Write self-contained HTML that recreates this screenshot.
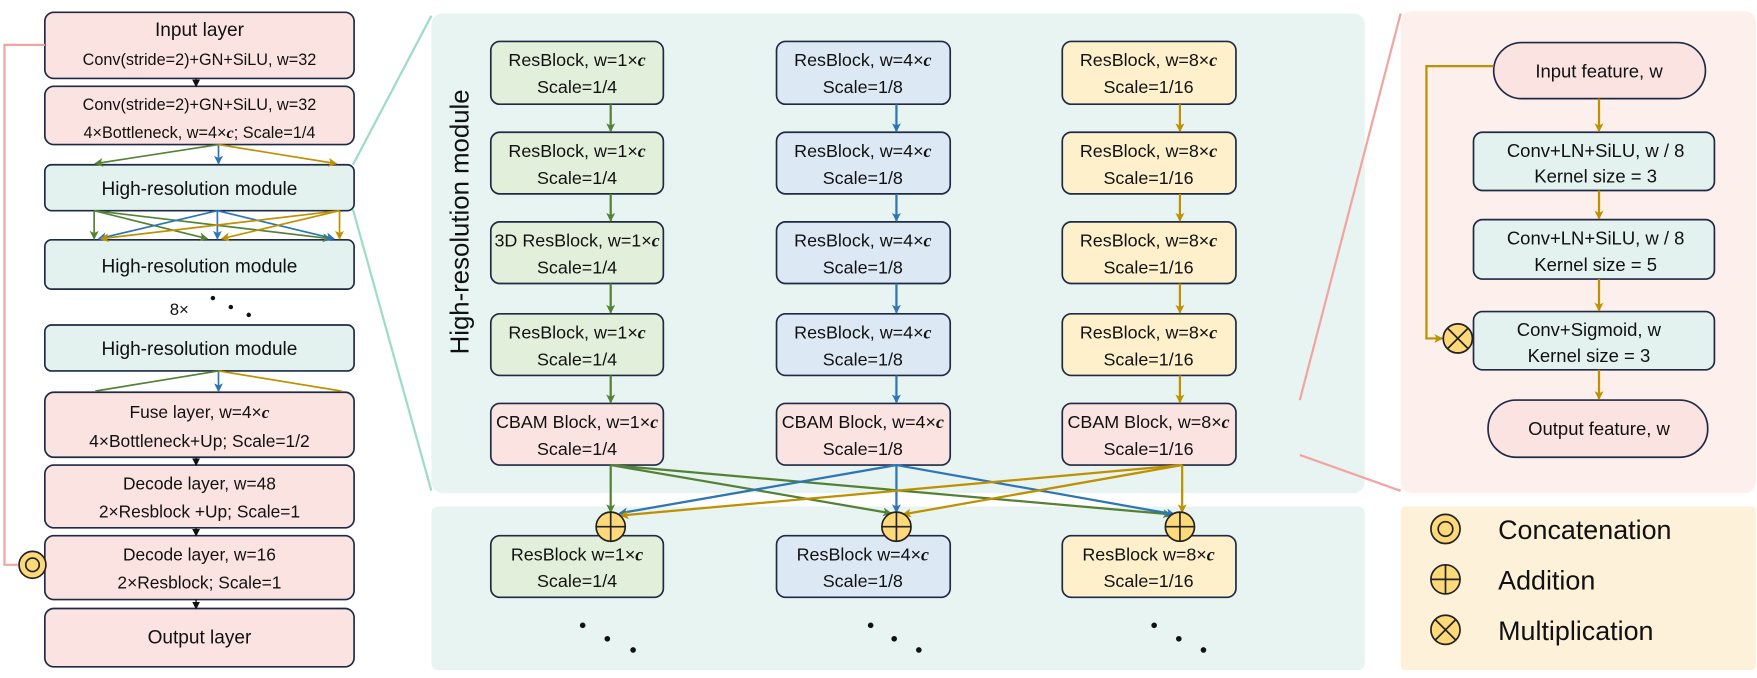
<!DOCTYPE html>
<html><head><meta charset="utf-8"><style>
html,body{margin:0;padding:0;background:#fff;}
svg{display:block;}
text{font-family:"Liberation Sans",sans-serif;fill:#111;}
.c{font-family:"Liberation Serif",serif;font-style:italic;font-weight:bold;}
</style></head><body>
<svg width="1757" height="678" viewBox="0 0 1568 605" preserveAspectRatio="none" xmlns="http://www.w3.org/2000/svg">
<defs>
<marker id="ag" markerWidth="8" markerHeight="8" refX="7" refY="4" orient="auto" markerUnits="userSpaceOnUse"><path d="M0,0 L8,4 L0,8 L2,4z" fill="#548235"/></marker>
<marker id="ab" markerWidth="8" markerHeight="8" refX="7" refY="4" orient="auto" markerUnits="userSpaceOnUse"><path d="M0,0 L8,4 L0,8 L2,4z" fill="#2e75b6"/></marker>
<marker id="ay" markerWidth="8" markerHeight="8" refX="7" refY="4" orient="auto" markerUnits="userSpaceOnUse"><path d="M0,0 L8,4 L0,8 L2,4z" fill="#bf9000"/></marker>
<marker id="ak" markerWidth="7" markerHeight="7" refX="6" refY="3.5" orient="auto" markerUnits="userSpaceOnUse"><path d="M0,0 L7,3.5 L0,7z" fill="#111"/></marker>
</defs>

<rect x="385" y="12" width="833" height="428" rx="10" fill="#e8f4f1"/>
<rect x="385" y="452" width="833" height="146" rx="6" fill="#e8f4f1"/>
<rect x="1250" y="10" width="317" height="430" rx="10" fill="#fcefec"/>
<rect x="1250" y="452" width="317" height="146" rx="4" fill="#fdf1d9"/>

<line x1="315" y1="147" x2="385" y2="14" stroke="#9fdcc8" stroke-width="2"/>
<line x1="315" y1="187" x2="385" y2="438" stroke="#9fdcc8" stroke-width="2"/>
<line x1="1160" y1="357" x2="1250" y2="12" stroke="#f2a5a0" stroke-width="2"/>
<line x1="1160" y1="406" x2="1250" y2="438" stroke="#f2a5a0" stroke-width="2"/>

<g stroke="#1f2a44" stroke-width="1.5">
<rect x="40" y="11" width="276" height="59" rx="8" fill="#fbe3e1"/>
<rect x="40" y="77" width="276" height="52" rx="8" fill="#fbe3e1"/>
<rect x="40" y="147" width="276" height="41" rx="6" fill="#e3f2ee"/>
<rect x="40" y="214" width="276" height="44" rx="6" fill="#e3f2ee"/>
<rect x="40" y="290" width="276" height="41" rx="6" fill="#e3f2ee"/>
<rect x="40" y="350" width="276" height="58" rx="8" fill="#fbe3e1"/>
<rect x="40" y="415" width="276" height="56" rx="8" fill="#fbe3e1"/>
<rect x="40" y="478" width="276" height="57" rx="8" fill="#fbe3e1"/>
<rect x="40" y="543" width="276" height="52" rx="8" fill="#fbe3e1"/>
</g>
<text x="178" y="32" font-size="17" text-anchor="middle">Input layer</text>
<text x="178" y="58" font-size="14.5" text-anchor="middle">Conv(stride=2)+GN+SiLU, w=32</text>
<text x="178" y="98" font-size="14.5" text-anchor="middle">Conv(stride=2)+GN+SiLU, w=32</text>
<text x="178" y="123" font-size="14.5" text-anchor="middle">4×Bottleneck, w=4×<tspan class="c">c</tspan>; Scale=1/4</text>
<text x="178" y="174" font-size="17" text-anchor="middle">High-resolution module</text>
<text x="178" y="243" font-size="17" text-anchor="middle">High-resolution module</text>
<text x="160" y="281" font-size="15" text-anchor="middle">8×</text>
<circle cx="190" cy="266" r="2" fill="#111"/><circle cx="206" cy="274" r="2" fill="#111"/><circle cx="222" cy="281" r="2" fill="#111"/>
<text x="178" y="317" font-size="17" text-anchor="middle">High-resolution module</text>
<text x="178" y="373" font-size="15.5" text-anchor="middle">Fuse layer, w=4×<tspan class="c">c</tspan></text>
<text x="178" y="399" font-size="15.5" text-anchor="middle">4×Bottleneck+Up; Scale=1/2</text>
<text x="178" y="437" font-size="15.5" text-anchor="middle">Decode layer, w=48</text>
<text x="178" y="462" font-size="15.5" text-anchor="middle">2×Resblock +Up; Scale=1</text>
<text x="178" y="500" font-size="15.5" text-anchor="middle">Decode layer, w=16</text>
<text x="178" y="525" font-size="15.5" text-anchor="middle">2×Resblock; Scale=1</text>
<text x="178" y="574" font-size="17" text-anchor="middle">Output layer</text>

<line x1="175" y1="70" x2="175" y2="77" stroke="#111" stroke-width="1.2" marker-end="url(#ak)"/>
<line x1="175" y1="408" x2="175" y2="415" stroke="#111" stroke-width="1.2" marker-end="url(#ak)"/>
<line x1="175" y1="471" x2="175" y2="478" stroke="#111" stroke-width="1.2" marker-end="url(#ak)"/>
<line x1="175" y1="535" x2="175" y2="543" stroke="#111" stroke-width="1.2" marker-end="url(#ak)"/>
<g stroke-width="1.5" fill="none">
<line x1="195" y1="129" x2="85" y2="146" stroke="#548235" marker-end="url(#ag)"/>
<line x1="195" y1="129" x2="195" y2="146" stroke="#2e75b6" marker-end="url(#ab)"/>
<line x1="195" y1="129" x2="300" y2="146" stroke="#bf9000" marker-end="url(#ay)"/>
<line x1="84" y1="188" x2="84" y2="213" stroke="#548235" marker-end="url(#ag)"/>
<line x1="84" y1="188" x2="185" y2="213" stroke="#548235" marker-end="url(#ag)"/>
<line x1="84" y1="188" x2="295" y2="213" stroke="#548235" marker-end="url(#ag)"/>
<line x1="194" y1="188" x2="88" y2="213" stroke="#2e75b6" marker-end="url(#ab)"/>
<line x1="194" y1="188" x2="194" y2="213" stroke="#2e75b6" marker-end="url(#ab)"/>
<line x1="194" y1="188" x2="298" y2="213" stroke="#2e75b6" marker-end="url(#ab)"/>
<line x1="303" y1="188" x2="90" y2="213" stroke="#bf9000" marker-end="url(#ay)"/>
<line x1="303" y1="188" x2="198" y2="213" stroke="#bf9000" marker-end="url(#ay)"/>
<line x1="303" y1="188" x2="303" y2="213" stroke="#bf9000" marker-end="url(#ay)"/>
<line x1="195" y1="331" x2="85" y2="349" stroke="#548235"/>
<line x1="195" y1="331" x2="195" y2="349" stroke="#2e75b6" marker-end="url(#ab)"/>
<line x1="195" y1="331" x2="305" y2="349" stroke="#bf9000"/>
</g>
<polyline points="40,40 4,40 4,504 16,504" fill="none" stroke="#f2a5a0" stroke-width="2"/>
<circle cx="29" cy="504" r="12" fill="#fdd97a" stroke="#222" stroke-width="1.5"/>
<circle cx="29" cy="504" r="6" fill="none" stroke="#222" stroke-width="1.5"/>

<text x="0" y="0" font-size="23" text-anchor="middle" transform="translate(418,198) rotate(-90)">High-resolution module</text>

<g stroke="#1f2a44" stroke-width="1.5">
<g fill="#e2efda">
<rect x="438" y="37" width="154" height="56" rx="8"/><rect x="438" y="118" width="154" height="55" rx="8"/><rect x="438" y="198" width="154" height="55" rx="8"/><rect x="438" y="280" width="154" height="55" rx="8"/><rect x="438" y="478" width="154" height="55" rx="8"/>
</g>
<g fill="#dde8f5">
<rect x="693" y="37" width="155" height="56" rx="8"/><rect x="693" y="118" width="155" height="55" rx="8"/><rect x="693" y="198" width="155" height="55" rx="8"/><rect x="693" y="280" width="155" height="55" rx="8"/><rect x="693" y="478" width="155" height="55" rx="8"/>
</g>
<g fill="#fff0cc">
<rect x="948" y="37" width="155" height="56" rx="8"/><rect x="948" y="118" width="155" height="55" rx="8"/><rect x="948" y="198" width="155" height="55" rx="8"/><rect x="948" y="280" width="155" height="55" rx="8"/><rect x="948" y="478" width="155" height="55" rx="8"/>
</g>
<g fill="#fbe3e1">
<rect x="438" y="360" width="154" height="55" rx="8"/><rect x="693" y="360" width="155" height="55" rx="8"/><rect x="948" y="360" width="155" height="55" rx="8"/>
</g>
</g>
<g font-size="16" text-anchor="middle">
<text x="515" y="59">ResBlock, w=1×<tspan class="c">c</tspan></text><text x="515" y="83">Scale=1/4</text>
<text x="515" y="140">ResBlock, w=1×<tspan class="c">c</tspan></text><text x="515" y="164">Scale=1/4</text>
<text x="515" y="220">3D ResBlock, w=1×<tspan class="c">c</tspan></text><text x="515" y="244">Scale=1/4</text>
<text x="515" y="302">ResBlock, w=1×<tspan class="c">c</tspan></text><text x="515" y="326">Scale=1/4</text>
<text x="515" y="382">CBAM Block, w=1×<tspan class="c">c</tspan></text><text x="515" y="406">Scale=1/4</text>
<text x="515" y="500">ResBlock w=1×<tspan class="c">c</tspan></text><text x="515" y="524">Scale=1/4</text>

<text x="770" y="59">ResBlock, w=4×<tspan class="c">c</tspan></text><text x="770" y="83">Scale=1/8</text>
<text x="770" y="140">ResBlock, w=4×<tspan class="c">c</tspan></text><text x="770" y="164">Scale=1/8</text>
<text x="770" y="220">ResBlock, w=4×<tspan class="c">c</tspan></text><text x="770" y="244">Scale=1/8</text>
<text x="770" y="302">ResBlock, w=4×<tspan class="c">c</tspan></text><text x="770" y="326">Scale=1/8</text>
<text x="770" y="382">CBAM Block, w=4×<tspan class="c">c</tspan></text><text x="770" y="406">Scale=1/8</text>
<text x="770" y="500">ResBlock w=4×<tspan class="c">c</tspan></text><text x="770" y="524">Scale=1/8</text>

<text x="1025" y="59">ResBlock, w=8×<tspan class="c">c</tspan></text><text x="1025" y="83">Scale=1/16</text>
<text x="1025" y="140">ResBlock, w=8×<tspan class="c">c</tspan></text><text x="1025" y="164">Scale=1/16</text>
<text x="1025" y="220">ResBlock, w=8×<tspan class="c">c</tspan></text><text x="1025" y="244">Scale=1/16</text>
<text x="1025" y="302">ResBlock, w=8×<tspan class="c">c</tspan></text><text x="1025" y="326">Scale=1/16</text>
<text x="1025" y="382">CBAM Block, w=8×<tspan class="c">c</tspan></text><text x="1025" y="406">Scale=1/16</text>
<text x="1025" y="500">ResBlock w=8×<tspan class="c">c</tspan></text><text x="1025" y="524">Scale=1/16</text>
</g>

<g stroke-width="2">
<line x1="545" y1="93" x2="545" y2="117" stroke="#548235" marker-end="url(#ag)"/>
<line x1="545" y1="173" x2="545" y2="197" stroke="#548235" marker-end="url(#ag)"/>
<line x1="545" y1="253" x2="545" y2="279" stroke="#548235" marker-end="url(#ag)"/>
<line x1="545" y1="335" x2="545" y2="359" stroke="#548235" marker-end="url(#ag)"/>
<line x1="800" y1="93" x2="800" y2="117" stroke="#2e75b6" marker-end="url(#ab)"/>
<line x1="800" y1="173" x2="800" y2="197" stroke="#2e75b6" marker-end="url(#ab)"/>
<line x1="800" y1="253" x2="800" y2="279" stroke="#2e75b6" marker-end="url(#ab)"/>
<line x1="800" y1="335" x2="800" y2="359" stroke="#2e75b6" marker-end="url(#ab)"/>
<line x1="1053" y1="93" x2="1053" y2="117" stroke="#bf9000" marker-end="url(#ay)"/>
<line x1="1053" y1="173" x2="1053" y2="197" stroke="#bf9000" marker-end="url(#ay)"/>
<line x1="1053" y1="253" x2="1053" y2="279" stroke="#bf9000" marker-end="url(#ay)"/>
<line x1="1053" y1="335" x2="1053" y2="359" stroke="#bf9000" marker-end="url(#ay)"/>
<line x1="545" y1="415" x2="545" y2="457" stroke="#548235" marker-end="url(#ag)"/>
<line x1="545" y1="415" x2="795" y2="458" stroke="#548235" marker-end="url(#ag)"/>
<line x1="545" y1="415" x2="1045" y2="459" stroke="#548235" marker-end="url(#ag)"/>
<line x1="800" y1="415" x2="553" y2="458" stroke="#2e75b6" marker-end="url(#ab)"/>
<line x1="800" y1="415" x2="800" y2="457" stroke="#2e75b6" marker-end="url(#ab)"/>
<line x1="800" y1="415" x2="1048" y2="459" stroke="#2e75b6" marker-end="url(#ab)"/>
<line x1="1055" y1="415" x2="554" y2="460" stroke="#bf9000" marker-end="url(#ay)"/>
<line x1="1055" y1="415" x2="806" y2="459" stroke="#bf9000" marker-end="url(#ay)"/>
<line x1="1055" y1="415" x2="1055" y2="457" stroke="#bf9000" marker-end="url(#ay)"/>
</g>
<g stroke="#222" stroke-width="1.5" fill="#fdd97a">
<circle cx="545" cy="470" r="13"/><line x1="532" y1="470" x2="558" y2="470"/><line x1="545" y1="457" x2="545" y2="483"/>
<circle cx="800" cy="470" r="13"/><line x1="787" y1="470" x2="813" y2="470"/><line x1="800" y1="457" x2="800" y2="483"/>
<circle cx="1053" cy="470" r="13"/><line x1="1040" y1="470" x2="1066" y2="470"/><line x1="1053" y1="457" x2="1053" y2="483"/>
</g>
<g fill="#111">
<circle cx="520" cy="558" r="2.5"/><circle cx="542" cy="570" r="2.5"/><circle cx="565" cy="580" r="2.5"/>
<circle cx="777" cy="558" r="2.5"/><circle cx="798" cy="570" r="2.5"/><circle cx="820" cy="580" r="2.5"/>
<circle cx="1030" cy="558" r="2.5"/><circle cx="1052" cy="570" r="2.5"/><circle cx="1074" cy="580" r="2.5"/>
</g>

<g stroke="#1f2a44" stroke-width="1.5">
<rect x="1333" y="38" width="189" height="50" rx="25" fill="#fbe3e1"/>
<rect x="1315" y="118" width="215" height="52" rx="8" fill="#e3f2ee"/>
<rect x="1315" y="196" width="215" height="53" rx="8" fill="#e3f2ee"/>
<rect x="1315" y="278" width="215" height="52" rx="8" fill="#e3f2ee"/>
<rect x="1328" y="357" width="196" height="51" rx="25" fill="#fbe3e1"/>
</g>
<g font-size="16.5" text-anchor="middle">
<text x="1427" y="69">Input feature, w</text>
<text x="1424" y="140">Conv+LN+SiLU, w / 8</text><text x="1424" y="163">Kernel size = 3</text>
<text x="1424" y="218">Conv+LN+SiLU, w / 8</text><text x="1424" y="242">Kernel size = 5</text>
<text x="1418" y="300">Conv+Sigmoid, w</text><text x="1418" y="323">Kernel size = 3</text>
<text x="1427" y="388">Output feature, w</text>
</g>
<g stroke="#bf9000" stroke-width="2" fill="none">
<line x1="1427" y1="88" x2="1427" y2="117" marker-end="url(#ay)"/>
<line x1="1427" y1="170" x2="1427" y2="195" marker-end="url(#ay)"/>
<line x1="1427" y1="249" x2="1427" y2="277" marker-end="url(#ay)"/>
<line x1="1427" y1="330" x2="1427" y2="356" marker-end="url(#ay)"/>
<polyline points="1333,59 1273,59 1273,302 1287,302" marker-end="url(#ay)"/>
</g>
<g stroke="#222" stroke-width="1.5">
<circle cx="1301" cy="302" r="13" fill="#fdd97a"/>
<line x1="1292" y1="293" x2="1310" y2="311"/><line x1="1310" y1="293" x2="1292" y2="311"/>
</g>

<g stroke="#222" stroke-width="1.5" fill="#fdd97a">
<circle cx="1290" cy="472" r="13"/><circle cx="1290" cy="472" r="6.5" fill="none"/>
<circle cx="1290" cy="517" r="13"/><line x1="1277" y1="517" x2="1303" y2="517"/><line x1="1290" y1="504" x2="1290" y2="530"/>
<circle cx="1290" cy="562" r="13"/><line x1="1281" y1="553" x2="1299" y2="571"/><line x1="1299" y1="553" x2="1281" y2="571"/>
</g>
<g font-size="24">
<text x="1337" y="481">Concatenation</text>
<text x="1337" y="526">Addition</text>
<text x="1337" y="571">Multiplication</text>
</g>
</svg>
</body></html>
